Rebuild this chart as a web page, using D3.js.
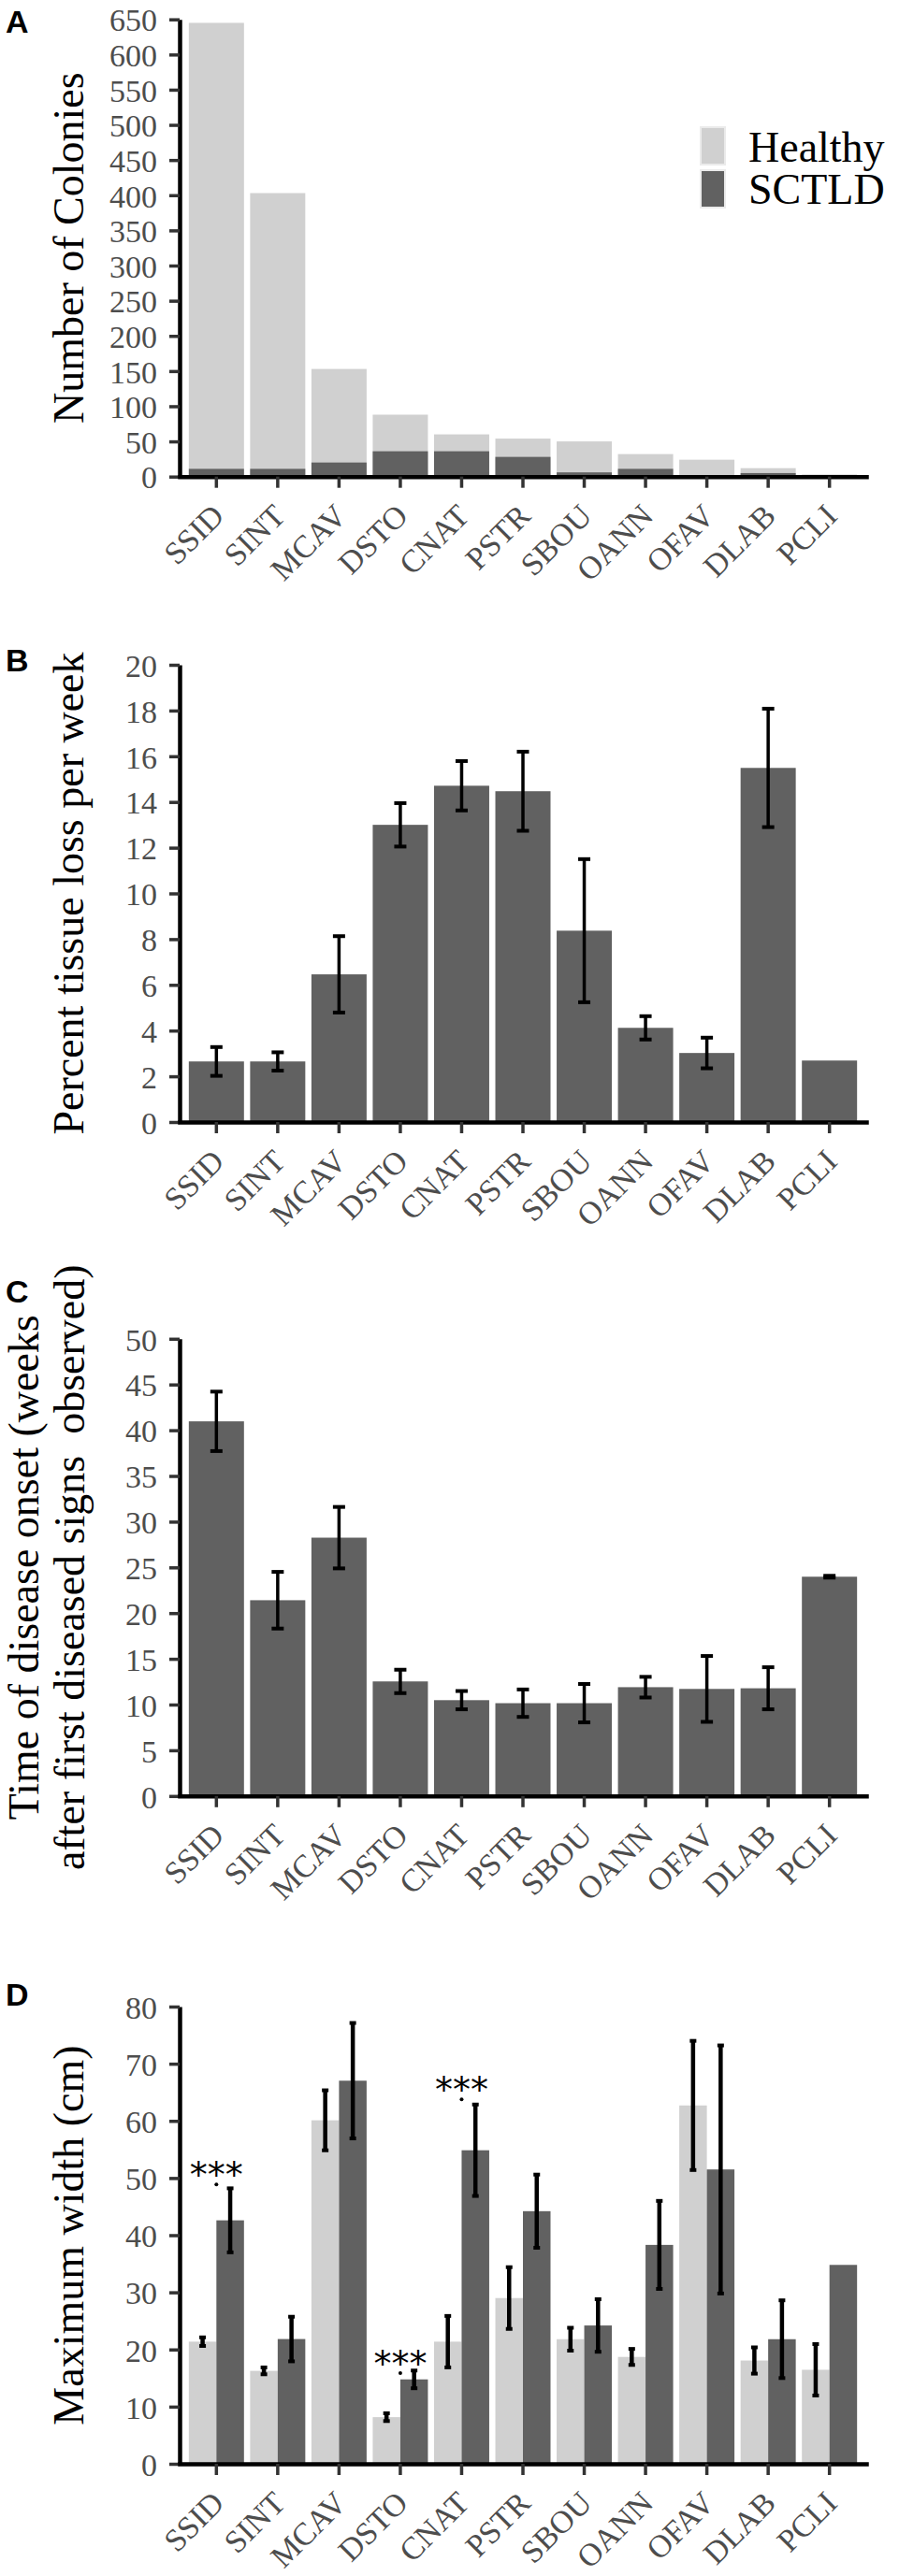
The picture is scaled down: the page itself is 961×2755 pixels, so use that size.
<!DOCTYPE html>
<html>

<head>
<meta charset="utf-8">
<style>
body { margin: 0; background: #fff; }
svg text { font-family: "Liberation Serif", "Times New Roman", serif; }
.axis .domain { stroke: #000; stroke-width: 4.5px; }
.axis .tick line { stroke: #333; stroke-width: 3.5px; }
.axis .tick text, .xlabel { fill: #4d4d4d; font-size: 34px; font-family: "Liberation Serif", serif; }
.panel-label { font-family: "Liberation Sans", Arial, sans-serif !important; font-weight: bold; font-size: 34px; }
.title { font-size: 46px; fill: #000; }
.errbar { stroke: #000; }
</style>
</head>

<body>

<div id="diagram"></div>

<script src="https://cdn.jsdelivr.net/npm/d3@7"></script>
<script>

// species codes, in plotted order
var species = [ 'SSID', 'SINT', 'MCAV', 'DSTO', 'CNAT', 'PSTR', 'SBOU', 'OANN', 'OFAV', 'DLAB', 'PCLI' ];

// A: number of colonies
var count_healthy = [ 645, 403, 153, 88, 60, 54, 50, 32, 24, 12, 3 ];
var count_sctld   = [ 11, 11, 20, 36, 36, 28, 6, 11, 0, 5, 1 ];
var count_ticks   = [ 0, 50, 100, 150, 200, 250, 300, 350, 400, 450, 500, 550, 600, 650 ];

// B: percent tissue loss per week (mean, error)
var loss_mean = [ 2.65, 2.65, 6.46, 13.0, 14.71, 14.47, 8.37, 4.12, 3.02, 15.49, 2.69 ];
var loss_err  = [ 0.63, 0.40, 1.67, 0.95, 1.08, 1.73, 3.13, 0.51, 0.67, 2.59, 0 ];
var loss_ticks = [ 0, 2, 4, 6, 8, 10, 12, 14, 16, 18, 20 ];

// C: time of disease onset, weeks
var onset_mean = [ 40.97, 21.41, 28.25, 12.53, 10.48, 10.15, 10.15, 11.9, 11.71, 11.78, 23.98 ];
var onset_err  = [ 3.25, 3.1, 3.36, 1.28, 1.0, 1.5, 2.1, 1.13, 3.6, 2.3, 0.1 ];
var onset_ticks = [ 0, 5, 10, 15, 20, 25, 30, 35, 40, 45, 50 ];

// D: maximum width (cm), healthy vs SCTLD
var width_healthy     = [ 21.37, 16.26, 60.1, 8.16, 21.37, 29.0, 21.8, 18.7, 62.7, 18.07, 16.45 ];
var width_healthy_err = [ 0.75, 0.6, 5.25, 0.68, 4.5, 5.4, 2.0, 1.4, 11.3, 2.3, 4.5 ];
var width_sctld       = [ 42.6, 21.83, 67.03, 14.77, 54.86, 44.2, 24.2, 38.3, 51.5, 21.8, 34.8 ];
var width_sctld_err   = [ 5.6, 3.9, 10.1, 1.55, 8.0, 6.4, 4.6, 7.7, 21.7, 6.8, 0 ];
var width_ticks = [ 0, 10, 20, 30, 40, 50, 60, 70, 80 ];

// significance marks in D
var sig_species = [ 'SSID', 'DSTO', 'CNAT' ];
var sig_at      = [ 48.7, 15.7, 63.6 ];
var sig_text    = '***';

var groups = [ 'Healthy', 'SCTLD' ];
var colours = { Healthy: '#d0d0d0', SCTLD: '#616161' };


var canvas_size = { width: 961, height: 2755 };
var plot_left = 192, plot_right = 926, plot_height = 489;

var svg = d3.select( '#diagram' )
	.append( 'svg' )
		.attr( 'width', canvas_size.width )
		.attr( 'height', canvas_size.height );

svg.append( 'rect' )
	.attr( 'width', canvas_size.width )
	.attr( 'height', canvas_size.height )
	.attr( 'fill', '#fff' );

var x = d3.scaleBand()
	.domain( species )
	.range( [ plot_left, plot_right ] )
	.paddingInner( 0.1 )
	.paddingOuter( 0.15 );


function make_y( top, ticks )
{
	return d3.scaleLinear()
		.domain( [ 0, ticks[ticks.length-1] ] )
		.range( [ top + plot_height, top ] );
}


function draw_axes( y, ticks )
{
	var bottom = y.range()[0];

	var ya = svg.append( 'g' )
		.attr( 'class', 'axis' )
		.attr( 'transform', 'translate(' + plot_left + ',0)' )
		.call( d3.axisLeft( y ).tickValues( ticks ).tickSize( 11 ).tickPadding( 13 ).tickSizeOuter( 0 ) );
	ya.selectAll( '.tick text' ).attr( 'dy', '0.36em' );

	var xa = svg.append( 'g' )
		.attr( 'class', 'axis' )
		.attr( 'transform', 'translate(0,' + bottom + ')' )
		.call( d3.axisBottom( x ).tickSize( 12 ).tickSizeOuter( 0 ).tickFormat( '' ) );
	xa.select( '.domain' ).attr( 'stroke-linecap', 'square' );

	// slanted species names, right end just under each tick
	var lab = svg.append( 'g' ).selectAll( 'g' )
		.data( species )
		.enter().append( 'g' )
			.attr( 'transform', function(d)
			{
				var px = x( d ) + x.bandwidth() / 2 + 10;
				return 'translate(' + px + ',' + ( bottom + 44 ) + ') rotate(-45)';
			});
	lab.append( 'text' )
		.attr( 'class', 'xlabel' )
		.attr( 'text-anchor', 'end' )
		.text( function(d) { return d; } );
}


function draw_label( letter, baseline )
{
	svg.append( 'text' )
		.attr( 'class', 'panel-label' )
		.attr( 'x', 6 )
		.attr( 'y', baseline )
		.text( letter );
}


function draw_title( lines, y, xs )
{
	var mid = ( y.range()[0] + y.range()[1] ) / 2;
	lines.forEach( function( line, i )
	{
		svg.append( 'text' )
			.attr( 'class', 'title' )
			.attr( 'xml:space', 'preserve' )
			.style( 'white-space', 'pre' )
			.attr( 'text-anchor', 'middle' )
			.attr( 'transform', 'translate(' + xs[i] + ',' + mid + ') rotate(-90)' )
			.text( line );
	});
}


function draw_errors( data, y, half_cap, line_w, cap_w )
{
	var g = svg.append( 'g' ).attr( 'class', 'errbar' );
	data = data.filter( function(d) { return d.err > 0; } );

	g.selectAll( 'line.stem' )
		.data( data )
		.enter().append( 'line' )
			.attr( 'x1', function(d) { return d.cx; } )
			.attr( 'x2', function(d) { return d.cx; } )
			.attr( 'y1', function(d) { return y( d.mean - d.err ); } )
			.attr( 'y2', function(d) { return y( d.mean + d.err ); } )
			.attr( 'stroke-width', line_w );

	[ -1, 1 ].forEach( function( s )
	{
		g.selectAll( 'line.cap' + s )
			.data( data )
			.enter().append( 'line' )
				.attr( 'x1', function(d) { return d.cx - half_cap; } )
				.attr( 'x2', function(d) { return d.cx + half_cap; } )
				.attr( 'y1', function(d) { return y( d.mean + s * d.err ); } )
				.attr( 'y2', function(d) { return y( d.mean + s * d.err ); } )
				.attr( 'stroke-width', cap_w );
	});
}


// ---- A ----
var ya = make_y( 20.7, count_ticks );

svg.append( 'g' ).selectAll( 'rect' )
	.data( species.map( function(s, i) { return { s: s, v: count_healthy[i] }; } ) )
	.enter().append( 'rect' )
		.attr( 'x', function(d) { return x( d.s ); } )
		.attr( 'width', x.bandwidth() )
		.attr( 'y', function(d) { return ya( d.v ); } )
		.attr( 'height', function(d) { return ya( 0 ) - ya( d.v ); } )
		.attr( 'fill', colours.Healthy );

svg.append( 'g' ).selectAll( 'rect' )
	.data( species.map( function(s, i) { return { s: s, v: count_sctld[i] }; } ) )
	.enter().append( 'rect' )
		.attr( 'x', function(d) { return x( d.s ); } )
		.attr( 'width', x.bandwidth() )
		.attr( 'y', function(d) { return ya( d.v ); } )
		.attr( 'height', function(d) { return ya( 0 ) - ya( d.v ); } )
		.attr( 'fill', colours.SCTLD );

draw_axes( ya, count_ticks );
draw_label( 'A', 35 );
draw_title( [ 'Number of Colonies' ], ya, [ 89 ] );

var legend = svg.append( 'g' ).attr( 'transform', 'translate(749,136)' );
groups.forEach( function( grp, i )
{
	legend.append( 'rect' )
		.attr( 'x', 0 )
		.attr( 'y', i * 46 )
		.attr( 'width', 26 )
		.attr( 'height', 40 )
		.attr( 'fill', colours[grp] )
		.attr( 'stroke', '#ebebeb' )
		.attr( 'stroke-width', 2 );
	legend.append( 'text' )
		.attr( 'class', 'title' )
		.attr( 'x', 51 )
		.attr( 'y', 37 + i * 45 )
		.text( grp );
});


// ---- B and C : single dark bars with error bars ----
function single_panel( top, ticks, mean, err, letter, label_y, title, title_x )
{
	var y = make_y( top, ticks );
	var data = species.map( function(s, i) { return { s: s, mean: mean[i], err: err[i], cx: x( s ) + x.bandwidth() / 2 }; } );

	svg.append( 'g' ).selectAll( 'rect' )
		.data( data )
		.enter().append( 'rect' )
			.attr( 'x', function(d) { return x( d.s ); } )
			.attr( 'width', x.bandwidth() )
			.attr( 'y', function(d) { return y( d.mean ); } )
			.attr( 'height', function(d) { return y( 0 ) - y( d.mean ); } )
			.attr( 'fill', colours.SCTLD );

	draw_errors( data, y, 6.5, 3.5, 4 );
	draw_axes( y, ticks );
	draw_label( letter, label_y );
	draw_title( title, y, title_x );
}

single_panel( 711, loss_ticks, loss_mean, loss_err, 'B', 718,
	[ 'Percent tissue loss per week' ], [ 89 ] );

single_panel( 1431.8, onset_ticks, onset_mean, onset_err, 'C', 1393,
	[ 'Time of disease onset (weeks', 'after first diseased signs  observed)' ], [ 41, 90 ] );


// ---- D : grouped bars ----
var yd = make_y( 2146, width_ticks );
var sub = d3.scaleBand().domain( groups ).range( [ 0, x.bandwidth() ] );

var width_data = [];
species.forEach( function( s, i )
{
	width_data.push( { s: s, g: 'Healthy', mean: width_healthy[i], err: width_healthy_err[i] } );
	width_data.push( { s: s, g: 'SCTLD', mean: width_sctld[i], err: width_sctld_err[i] } );
});
width_data.forEach( function(d) { d.cx = x( d.s ) + sub( d.g ) + sub.bandwidth() / 2; } );

svg.append( 'g' ).selectAll( 'rect' )
	.data( width_data )
	.enter().append( 'rect' )
		.attr( 'x', function(d) { return x( d.s ) + sub( d.g ); } )
		.attr( 'width', sub.bandwidth() )
		.attr( 'y', function(d) { return yd( d.mean ); } )
		.attr( 'height', function(d) { return yd( 0 ) - yd( d.mean ); } )
		.attr( 'fill', function(d) { return colours[d.g]; } );

draw_errors( width_data, yd, 3.5, 4.5, 4 );
draw_axes( yd, width_ticks );
draw_label( 'D', 2145 );
draw_title( [ 'Maximum width (cm)' ], yd, [ 89 ] );

var sig = svg.append( 'g' );
sig_species.forEach( function( s, i )
{
	var cx = x( s ) + x.bandwidth() / 2;
	sig.append( 'text' )
		.attr( 'x', cx )
		.attr( 'y', yd( sig_at[i] ) + 2 )
		.attr( 'text-anchor', 'middle' )
		.style( 'font-family', '"DejaVu Sans", sans-serif' )
		.style( 'font-size', '38px' )
		.text( sig_text );
	sig.append( 'circle' )
		.attr( 'cx', cx )
		.attr( 'cy', yd( sig_at[i] ) - 1 )
		.attr( 'r', 2 )
		.attr( 'fill', '#000' );
});

</script>

</body>
</html>
